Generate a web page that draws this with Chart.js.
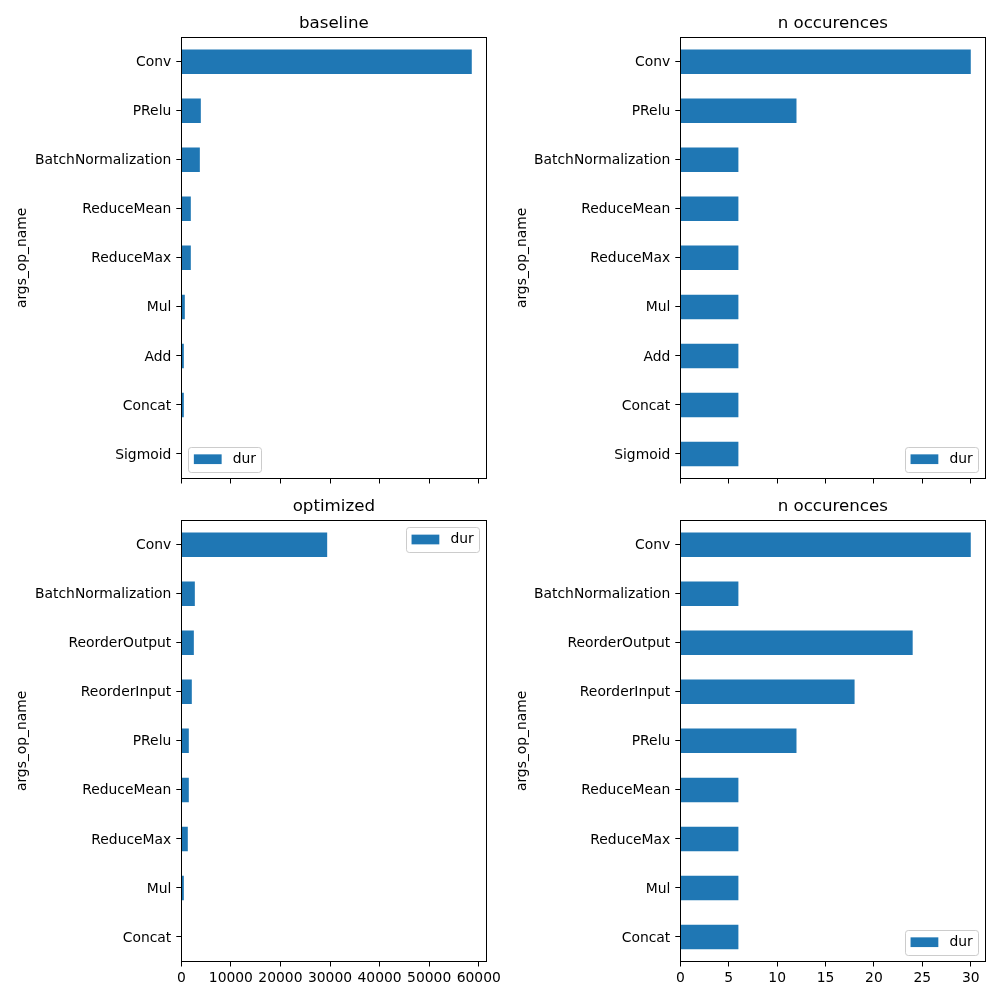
<!DOCTYPE html>
<html><head><meta charset="utf-8">
<script src="https://cdn.jsdelivr.net/npm/chart.js@4"></script>
<style>
html,body{margin:0;padding:0;background:#fff;}
#wrap{position:relative;width:1000px;height:1000px;overflow:hidden;background:#fff}
.p{position:absolute;width:500px;height:510px}
</style></head><body>
<div id="wrap">
<div class="p" style="left:0;top:0"><canvas id="c1" width="500" height="510"></canvas></div>
<div class="p" style="left:500px;top:0"><canvas id="c2" width="500" height="510"></canvas></div>
<div class="p" style="left:0;top:483px"><canvas id="c3" width="500" height="510"></canvas></div>
<div class="p" style="left:500px;top:483px"><canvas id="c4" width="500" height="510"></canvas></div>
</div>
<script>
// ---- data ----
const baselineOps = ['Conv','PRelu','BatchNormalization','ReduceMean','ReduceMax','Mul','Add','Concat','Sigmoid'];
const baselineDur = [58600, 3940, 3740, 1920, 1920, 710, 510, 510, 40];
const baselineCount = [30, 12, 6, 6, 6, 6, 6, 6, 6];
const optimizedOps = ['Conv','BatchNormalization','ReorderOutput','ReorderInput','PRelu','ReduceMean','ReduceMax','Mul','Concat'];
const optimizedDur = [29430, 2730, 2530, 2120, 1515, 1515, 1310, 510, 30];
const optimizedCount = [30, 6, 24, 18, 12, 6, 6, 6, 6];
const durTicks = [0, 10000, 20000, 30000, 40000, 50000, 60000];
const countTicks = [0, 5, 10, 15, 20, 25, 30];
const seriesLabel = 'dur';
const yTitle = 'args_op_name';

const FS = 13.89;
Chart.defaults.font.family = '"DejaVu Sans"';
Chart.defaults.font.size = FS;
Chart.defaults.color = '#000';

const framePlugin = {
  id: 'frameLegend',
  afterDatasetsDraw(chart, args, o) {
    const ctx = chart.ctx, a = chart.chartArea;
    ctx.save();
    ctx.strokeStyle = '#000'; ctx.lineWidth = 1;
    const l = Math.floor(a.left) + 0.5, r = Math.floor(a.right) + 0.5;
    const t = Math.floor(a.top) + 0.5, b = Math.floor(a.bottom) + 0.5;
    ctx.strokeRect(l, t, r - l, b - t);
    // legend
    ctx.font = FS + 'px "DejaVu Sans"';
    const ds = chart.data.datasets[0];
    const tw = ctx.measureText(ds.label).width;
    const bp = 0.4 * FS, hl = 2 * FS, htp = 0.8 * FS, pad = 7;
    const w = bp + hl + htp + tw + bp;
    const h = 2 * bp + 0.97 * FS;
    let x, y;
    if (o.loc === 'lower left') { x = a.left + pad; y = a.bottom - pad - h; }
    else if (o.loc === 'upper right') { x = a.right - pad - w; y = a.top + pad; }
    else { x = a.right - pad - w; y = a.bottom - pad - h; }
    const rr = 0.2 * FS;
    ctx.beginPath();
    ctx.roundRect(Math.round(x) + 0.5, Math.round(y) + 0.5, Math.round(w), Math.round(h), rr);
    ctx.fillStyle = 'rgba(255,255,255,0.8)';
    ctx.fill();
    ctx.strokeStyle = '#cccccc';
    ctx.stroke();
    const cy = y + h / 2;
    ctx.fillStyle = ds.backgroundColor;
    ctx.fillRect(x + bp, cy - 0.35 * FS, hl, 0.7 * FS);
    ctx.fillStyle = '#000';
    ctx.textBaseline = 'middle';
    ctx.textAlign = 'left';
    ctx.fillText(ds.label, x + bp + hl + htp, cy);
    ctx.restore();
  }
};

function makeChart(id, labels, values, o) {
  const H = 510;
  return new Chart(document.getElementById(id), {
    type: 'bar',
    data: { labels: labels, datasets: [{ label: seriesLabel, data: values, backgroundColor: '#1f77b4', borderWidth: 0, barPercentage: 0.5, categoryPercentage: 1.0 }] },
    options: {
      indexAxis: 'y', responsive: false, animation: false,
      layout: { padding: { left: 0, right: 500 - o.right, top: 0, bottom: 0 } },
      plugins: {
        legend: { display: false }, tooltip: { enabled: false },
        title: { display: true, text: o.title, fullSize: false, color: '#000',
          font: { size: 16.67, weight: 'normal', lineHeight: 1.2 }, padding: { top: 14, bottom: 3.2 } },
        frameLegend: { loc: o.loc }
      },
      scales: {
        x: {
          type: 'linear', min: 0, max: o.xMax,
          afterBuildTicks: s => { s.ticks = o.ticks.map(v => ({ value: v })); },
          ticks: { display: o.showX, maxRotation: 0, minRotation: 0, padding: 3.5, autoSkip: false,
            callback: v => String(v), color: '#000', font: { size: FS } },
          grid: { display: true, drawOnChartArea: false, drawTicks: true, tickLength: 5, color: '#000', lineWidth: 1 },
          border: { display: false },
          afterFit: s => { s.height = H - 478.5; s.paddingLeft = 0; s.paddingRight = 0; }
        },
        y: {
          type: 'category',
          ticks: { padding: 5, color: '#000', font: { size: FS }, autoSkip: false, labelOffset: 1 },
          grid: { display: true, drawOnChartArea: false, drawTicks: true, tickLength: 5, color: '#000', lineWidth: 1, offset: false },
          border: { display: false },
          title: { display: true, text: yTitle, color: '#000', font: { size: FS }, padding: { top: 14.5, bottom: 0 } },
          afterFit: s => { s.width = o.left; s.paddingTop = 0; s.paddingBottom = 0; }
        }
      }
    },
    plugins: [framePlugin]
  });
}

const durMax = Math.max(...baselineDur) * 1.05;
const cntMax = Math.max(...baselineCount, ...optimizedCount) * 1.05;
makeChart('c1', baselineOps, baselineDur, { title: 'baseline', left: 181.3, right: 486.3, ticks: durTicks, showX: false, loc: 'lower left', xMax: durMax });
makeChart('c2', baselineOps, baselineCount, { title: 'n occurences', left: 180.3, right: 485.3, ticks: countTicks, showX: false, loc: 'lower right', xMax: cntMax });
makeChart('c3', optimizedOps, optimizedDur, { title: 'optimized', left: 181.3, right: 486.3, ticks: durTicks, showX: true, loc: 'upper right', xMax: durMax });
makeChart('c4', optimizedOps, optimizedCount, { title: 'n occurences', left: 180.3, right: 485.3, ticks: countTicks, showX: true, loc: 'lower right', xMax: cntMax });
</script>
</body></html>
